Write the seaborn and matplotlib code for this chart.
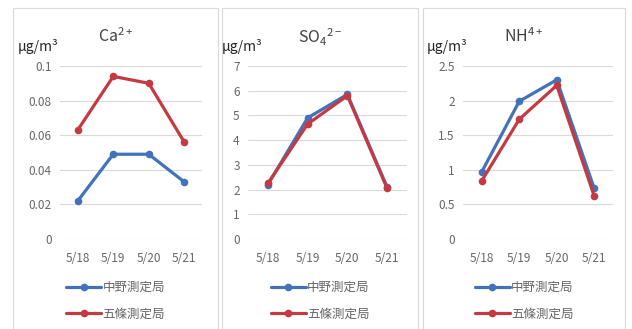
import pandas as pd
import seaborn as sns
import matplotlib.pyplot as plt
from matplotlib.patches import Rectangle
from matplotlib.lines import Line2D

# ----------------------------- DATA --------------------------------------------------------------------

dates = ["5/18", "5/19", "5/20", "5/21"]
stations = ["中野測定局", "五條測定局"]

ca_nakano = [0.022, 0.049, 0.049, 0.033]
ca_gojo = [0.063, 0.094, 0.090, 0.056]

so4_nakano = [2.2, 4.9, 5.85, 2.1]
so4_gojo = [2.25, 4.65, 5.8, 2.05]

nh4_nakano = [0.97, 1.99, 2.3, 0.73]
nh4_gojo = [0.84, 1.73, 2.22, 0.62]

titles = ["Ca$^{2+}$", "SO$_4$$^{2-}$", "NH$^{4+}$"]
unit = "μg/m³"
y_ticks = [
    [0, 0.02, 0.04, 0.06, 0.08, 0.1],
    [0, 1, 2, 3, 4, 5, 6, 7],
    [0, 0.5, 1, 1.5, 2, 2.5],
]
y_ticklabels = [
    ["0", "0.02", "0.04", "0.06", "0.08", "0.1"],
    ["0", "1", "2", "3", "4", "5", "6", "7"],
    ["0", "0.5", "1", "1.5", "2", "2.5"],
]

series = [(ca_nakano, ca_gojo), (so4_nakano, so4_gojo), (nh4_nakano, nh4_gojo)]

# ----------------------------- STYLE -------------------------------------------------------------------

sns.set_style("white")
plt.rcParams["font.family"] = ["Noto Sans CJK JP", "DejaVu Sans"]
plt.rcParams["mathtext.default"] = "regular"

colors = {"中野測定局": "#4273BA", "五條測定局": "#C43A42"}
text_grey = "#666666"

W, H = 632, 329
fig = plt.figure(figsize=(W / 100, H / 100), dpi=100)

# pixel layout for each panel: chart box and plot area
boxes = [(13, 8, 218, 340), (222, 8, 418, 340), (423, 8, 625, 340)]
plot_areas = [(60, 66, 202, 239), (248, 66, 407, 239), (463, 66, 613, 239)]
unit_x = [18, 222, 427]


def fx(px):
    return px / W


def fy(py):
    return 1 - py / H


for i in range(3):
    bx0, by0, bx1, by1 = boxes[i]
    fig.patches.append(
        Rectangle((fx(bx0), fy(by1)), fx(bx1 - bx0), (by1 - by0) / H,
                  transform=fig.transFigure, fill=False,
                  edgecolor="#d9d9d9", linewidth=0.8)
    )

    x0, y0, x1, y1 = plot_areas[i]
    ax = fig.add_axes([fx(x0), fy(y1), fx(x1 - x0), (y1 - y0) / H])

    nakano, gojo = series[i]
    df = pd.DataFrame({
        "date": dates * 2,
        "value": nakano + gojo,
        "station": [stations[0]] * 4 + [stations[1]] * 4,
    })
    sns.lineplot(data=df, x="date", y="value", hue="station", palette=colors,
                 marker="o", markersize=5.5, markeredgewidth=0, linewidth=2.3,
                 legend=False, ax=ax, sort=False)

    ax.set_xlim(-0.5, 3.5)
    ax.set_ylim(y_ticks[i][0], y_ticks[i][-1])
    ax.set_yticks(y_ticks[i])
    ax.set_yticklabels(y_ticklabels[i])
    ax.set_xlabel("")
    ax.set_ylabel("")
    ax.grid(axis="y", color="#d9d9d9", linewidth=0.8)
    ax.set_axisbelow(True)
    for s in ax.spines.values():
        s.set_visible(False)
    ax.tick_params(axis="both", length=0, labelsize=8.5, colors=text_grey, pad=6)
    ax.tick_params(axis="x", pad=9)

    cx = (bx0 + bx1) / 2
    fig.text(fx(cx), fy(37), titles[i], ha="center", va="center",
             fontsize=11.5, color="#404040")
    fig.text(fx(unit_x[i]), fy(47), unit, ha="left", va="center",
             fontsize=10, color="#262626")

    handles = [
        Line2D([0], [0], color=colors[s], linewidth=2.3, marker="o",
               markersize=5.5, markeredgewidth=0)
        for s in stations
    ]
    fig.legend(handles, stations, loc="upper center",
               bbox_to_anchor=(fx(cx), fy(275)), frameon=False,
               fontsize=9, labelcolor=text_grey, handlelength=2.8,
               handletextpad=0.1, labelspacing=1.05, borderpad=0)

fig.savefig("out.png", dpi=100)
